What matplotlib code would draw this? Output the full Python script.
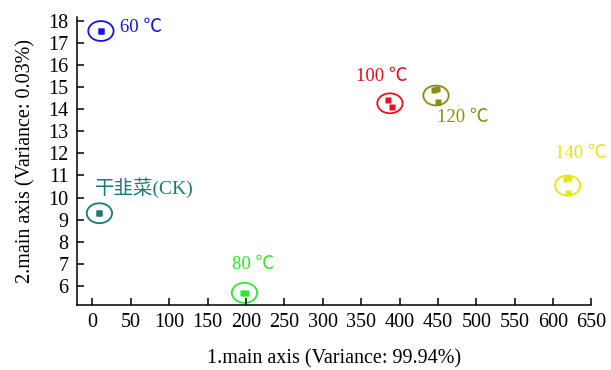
import matplotlib
matplotlib.use("Agg")
import matplotlib.pyplot as plt
from matplotlib.patches import Ellipse
import numpy as np

# 样品名称与颜色
groups = ['干韭菜(CK)', '60 ℃', '80 ℃', '100 ℃', '120 ℃', '140 ℃']
colors = ['#1b7a76', '#1414e6', '#33e633', '#e6101e', '#8c8c14', '#e6e614']

# 每组的样本点 (主轴1, 主轴2)
pts_x = [[9, 9], [11, 11], [196, 200], [385, 390], [445, 449, 450], [617, 621, 620]]
pts_y = [[9.29, 9.29], [17.53, 17.53], [5.70, 5.68], [14.41, 14.11], [14.88, 14.92, 14.31], [10.86, 10.90, 10.19]]

# 标签位置
lab_x = [3, 36, 182, 343, 449, 603]
lab_y = [10.43, 17.67, 6.99, 15.47, 13.6, 12.01]

xticks = np.arange(0, 651, 50)
yticks = np.arange(6, 19, 1)

plt.rcParams['font.family'] = ['Liberation Serif', 'Noto Sans CJK SC', 'DejaVu Sans']

fig = plt.figure(figsize=(6.11, 3.70), dpi=100)
ax = fig.add_axes([0.1255, 0.1757, 0.8425, 0.7793])

for i in range(len(groups)):
    xs = np.array(pts_x[i]); ys = np.array(pts_y[i])
    ax.plot(xs, ys, 's', ms=4, color=colors[i], mec='none')
    cx = (xs.max() + xs.min()) / 2
    cy = (ys.max() + ys.min()) / 2
    e = Ellipse((cx, cy), width=33, height=0.9, fill=False, ec=colors[i], lw=1.3)
    ax.add_patch(e)
    ax.text(lab_x[i], lab_y[i], groups[i], color=colors[i],
            fontsize=14 if i == 0 else 13.5, ha='left', va='center')

ax.set_xlim(-20.6, 650)
ax.set_ylim(5.14, 18.18)
ax.set_xticks(xticks)
ax.set_yticks(yticks)
ax.tick_params(direction='in', length=5, width=1.1, labelsize=14.5, pad=6)
ax.spines['top'].set_visible(False)
ax.spines['right'].set_visible(False)
for s in ['left', 'bottom']:
    ax.spines[s].set_linewidth(1.1)

ax.set_xlabel('1.main axis (Variance: 99.94%)', fontsize=14.5, labelpad=12)
ax.set_ylabel('2.main axis (Variance: 0.03%)', fontsize=14.5, labelpad=9)

fig.savefig('out.png', dpi=100)
